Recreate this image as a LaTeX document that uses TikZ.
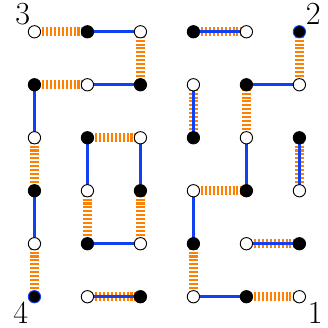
\documentclass[tikz,border=0pt]{standalone}
\usetikzlibrary{backgrounds}
\definecolor{match_blue}{RGB}{16,64,240}
\definecolor{match_orange}{RGB}{255,128,0}
\tikzset{
  blackpt/.style={shape=circle,draw,fill=black,inner sep=0pt,minimum size=6.6pt,line width=0.5pt},
  whitept/.style={shape=circle,draw,fill=white,inner sep=0pt,minimum size=6.6pt,line width=0.5pt},
  endpt/.style={blackpt,draw=match_blue},
  bluematch/.style={draw=match_blue,line width=1.8pt},
  orangematch/.style={draw=match_orange,line width=4.8pt,dash pattern=on 1.1pt off 1pt},
  cornerlabel/.style={font=\LARGE,inner sep=0pt}
}
\begin{document}
\begin{tikzpicture}
    \useasboundingbox (-0.65,-0.585) rectangle (5.54,5.6);
    % row 5 (top)
    \node[whitept] (p05) at (0,5) {};
    \node[blackpt] (p15) at (1,5) {};
    \node[whitept] (p25) at (2,5) {};
    \node[blackpt] (p35) at (3,5) {};
    \node[whitept] (p45) at (4,5) {};
    \node[endpt]   (p55) at (5,5) {};
    % row 4
    \node[blackpt] (p04) at (0,4) {};
    \node[whitept] (p14) at (1,4) {};
    \node[blackpt] (p24) at (2,4) {};
    \node[whitept] (p34) at (3,4) {};
    \node[blackpt] (p44) at (4,4) {};
    \node[whitept] (p54) at (5,4) {};
    % row 3
    \node[whitept] (p03) at (0,3) {};
    \node[blackpt] (p13) at (1,3) {};
    \node[whitept] (p23) at (2,3) {};
    \node[blackpt] (p33) at (3,3) {};
    \node[whitept] (p43) at (4,3) {};
    \node[blackpt] (p53) at (5,3) {};
    % row 2
    \node[blackpt] (p02) at (0,2) {};
    \node[whitept] (p12) at (1,2) {};
    \node[blackpt] (p22) at (2,2) {};
    \node[whitept] (p32) at (3,2) {};
    \node[blackpt] (p42) at (4,2) {};
    \node[whitept] (p52) at (5,2) {};
    % row 1
    \node[whitept] (p01) at (0,1) {};
    \node[blackpt] (p11) at (1,1) {};
    \node[whitept] (p21) at (2,1) {};
    \node[blackpt] (p31) at (3,1) {};
    \node[whitept] (p41) at (4,1) {};
    \node[blackpt] (p51) at (5,1) {};
    % row 0 (bottom)
    \node[endpt]   (p00) at (0,0) {};
    \node[whitept] (p10) at (1,0) {};
    \node[blackpt] (p20) at (2,0) {};
    \node[whitept] (p30) at (3,0) {};
    \node[blackpt] (p40) at (4,0) {};
    \node[whitept] (p50) at (5,0) {};
    \begin{scope}[on background layer]
    % orange matching
    \draw[orangematch] (p05.center) to (p15.center);
    \draw[orangematch] (p25.center) to (p24.center);
    \draw[orangematch] (p04.center) to (p14.center);
    \draw[orangematch] (p13.center) to (p23.center);
    \draw[orangematch] (p03.center) to (p02.center);
    \draw[orangematch] (p01.center) to (p00.center);
    \draw[orangematch] (p12.center) to (p11.center);
    \draw[orangematch] (p22.center) to (p21.center);
    \draw[orangematch] (p10.center) to (p20.center);
    \draw[orangematch] (p35.center) to (p45.center);
    \draw[orangematch] (p55.center) to (p54.center);
    \draw[orangematch] (p44.center) to (p43.center);
    \draw[orangematch] (p34.center) to (p33.center);
    \draw[orangematch] (p53.center) to (p52.center);
    \draw[orangematch] (p32.center) to (p42.center);
    \draw[orangematch] (p31.center) to (p30.center);
    \draw[orangematch] (p40.center) to (p50.center);
    \draw[orangematch] (p41.center) to (p51.center);
    % blue matching
    \draw[bluematch] (p15.center) to (p25.center);
    \draw[bluematch] (p14.center) to (p24.center);
    \draw[bluematch] (p04.center) to (p03.center);
    \draw[bluematch] (p23.center) to (p22.center);
    \draw[bluematch] (p13.center) to (p12.center);
    \draw[bluematch] (p02.center) to (p01.center);
    \draw[bluematch] (p11.center) to (p21.center);
    \draw[bluematch] (p10.center) to (p20.center);
    \draw[bluematch] (p35.center) to (p45.center);
    \draw[bluematch] (p44.center) to (p54.center);
    \draw[bluematch] (p34.center) to (p33.center);
    \draw[bluematch] (p43.center) to (p42.center);
    \draw[bluematch] (p53.center) to (p52.center);
    \draw[bluematch] (p32.center) to (p31.center);
    \draw[bluematch] (p30.center) to (p40.center);
    \draw[bluematch] (p41.center) to (p51.center);
    \end{scope}
    % corner labels
    \node[cornerlabel] (lab3) at ([shift={(-0.22,0.33)}]p05) {3};
    \node[cornerlabel] (lab2) at ([shift={(0.26,0.34)}]p55) {2};
    \node[cornerlabel] (lab4) at ([shift={(-0.26,-0.31)}]p00) {4};
    \node[cornerlabel] (lab1) at ([shift={(0.3,-0.31)}]p50) {1};
\end{tikzpicture}
\end{document}
